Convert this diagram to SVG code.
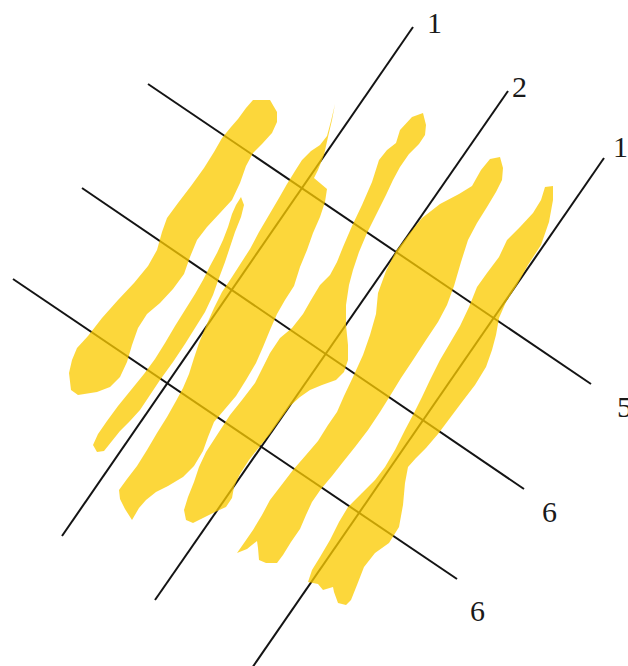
<svg xmlns="http://www.w3.org/2000/svg" width="628" height="666" viewBox="0 0 628 666">
<style>
.ln{stroke:#141414;stroke-width:2;fill:none}
.st{fill:#FBCB00;fill-opacity:0.77;stroke:none}
.lb{font-family:"Liberation Serif","DejaVu Serif",serif;font-size:30px;fill:#1a1a1a}
</style>
<rect width="628" height="666" fill="#ffffff"/>
<g id="lines">
<line class="ln" x1="62" y1="536" x2="413" y2="27"/>
<line class="ln" x1="155" y1="600" x2="508" y2="91"/>
<line class="ln" x1="252" y1="668" x2="604" y2="158"/>
<line class="ln" x1="148" y1="84" x2="591" y2="384"/>
<line class="ln" x1="82" y1="188" x2="524" y2="489"/>
<line class="ln" x1="13" y1="279" x2="457" y2="579"/>
</g>
<g id="strokes">
<path id="stroke-a" class="st" d="M253,100 L270,100 L277,112 L277,122 L272,133 L262,144 L253,153 L246,166 L240,183 L232,200 L220,213 L207,227 L197,240 L190,257 L184,274 L173,289 L160,303 L147,314 L138,328 L132,345 L127,362 L120,377 L110,387 L97,392 L78,395 L71,390 L69,373 L72,360 L77,348 L88,336 L102,318 L118,300 L134,283 L148,266 L157,250 L162,232 L167,218 L178,203 L191,186 L204,168 L214,152 L222,138 L231,127 L238,119 L246,108 Z"/>
<path id="stroke-b" class="st" d="M241,197 L244,205 L241,217 L235,232 L230,247 L225,262 L219,278 L213,295 L205,312 L195,328 L185,344 L173,362 L160,380 L150,395 L140,410 L130,421 L120,431 L112,441 L104,451 L97,452 L93,445 L98,434 L107,421 L118,406 L131,390 L144,374 L155,359 L165,343 L175,326 L185,310 L195,294 L203,280 L210,266 L217,253 L223,240 L228,227 L232,214 L236,205 Z"/>
<path id="stroke-c" class="st" d="M335,104 L332,120 L328,137 L324,155 L318,170 L314,178 L327,189 L325,202 L320,217 L313,233 L307,250 L300,267 L294,286 L285,300 L277,314 L270,330 L263,347 L256,363 L246,380 L236,396 L225,409 L214,422 L208,437 L203,451 L194,466 L183,477 L168,486 L156,492 L146,500 L139,508 L132,520 L125,509 L120,499 L119,490 L127,479 L137,466 L147,450 L157,433 L167,417 L176,401 L183,388 L189,374 L194,358 L199,343 L206,326 L214,308 L222,292 L232,277 L241,263 L250,249 L259,232 L269,215 L279,198 L287,184 L295,171 L302,160 L311,151 L320,145 L327,136 L331,121 Z"/>
<path id="stroke-d" class="st" d="M423,113 L426,125 L425,135 L419,144 L409,154 L400,167 L393,180 L386,195 L377,213 L367,233 L359,252 L353,270 L349,285 L346,305 L346,325 L348,345 L348,360 L344,372 L336,380 L322,385 L310,390 L300,397 L290,406 L280,420 L270,434 L260,446 L249,460 L240,474 L234,487 L232,498 L226,507 L215,512 L203,518 L193,523 L186,520 L184,510 L188,497 L194,482 L199,467 L206,452 L217,435 L230,415 L242,400 L255,383 L263,367 L270,353 L280,338 L292,328 L303,314 L311,300 L320,285 L330,275 L337,262 L343,247 L352,226 L362,205 L372,182 L379,160 L387,150 L396,143 L400,130 L412,117 Z"/>
<path id="stroke-e" class="st" d="M500,157 L503,168 L502,180 L496,192 L487,207 L477,223 L468,240 L461,262 L454,286 L447,305 L438,322 L426,340 L413,360 L401,378 L390,396 L380,412 L368,430 L355,447 L343,462 L332,476 L321,489 L312,502 L306,515 L300,529 L291,542 L283,555 L277,563 L266,563 L259,560 L258,548 L257,541 L247,549 L237,553 L244,543 L253,530 L262,515 L270,500 L280,487 L293,470 L306,455 L318,441 L328,425 L337,412 L344,396 L353,377 L363,355 L370,335 L376,314 L378,293 L386,271 L396,251 L409,234 L422,218 L440,204 L459,194 L472,186 L481,170 L490,159 Z"/>
<path id="stroke-f" class="st" d="M545,187 L553,186 L553,200 L549,222 L541,245 L528,265 L517,285 L506,302 L499,318 L496,335 L492,350 L486,367 L475,385 L462,402 L450,418 L438,434 L426,448 L416,458 L408,467 L405,483 L403,505 L399,527 L389,543 L375,553 L364,567 L357,585 L351,600 L346,605 L338,603 L334,592 L333,587 L323,590 L318,584 L308,582 L312,570 L320,557 L330,540 L339,522 L348,507 L362,493 L375,480 L385,467 L395,450 L405,430 L414,413 L422,397 L430,380 L440,360 L450,343 L460,326 L469,307 L477,287 L487,273 L499,257 L507,240 L520,227 L533,213 L541,200 Z"/>
</g>
<g id="labels">
<text class="lb" x="427" y="33">1</text>
<text class="lb" x="512" y="97">2</text>
<text class="lb" x="613" y="157">1</text>
<text class="lb" x="617" y="417">5</text>
<text class="lb" x="542" y="522">6</text>
<text class="lb" x="470" y="621">6</text>
</g>
</svg>
